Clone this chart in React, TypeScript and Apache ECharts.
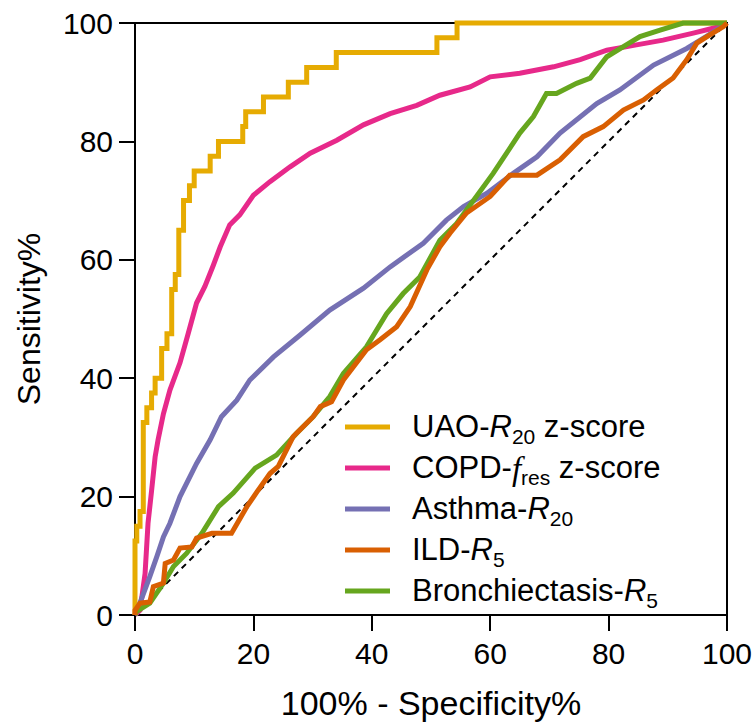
import React, { useEffect, useRef } from "react";
import * as echarts from "echarts";

const X_TICKS = [0, 20, 40, 60, 80, 100];
const Y_TICKS = [0, 20, 40, 60, 80, 100];

const SERIES_NAMES = ["UAO", "COPD", "Asthma", "ILD", "Bronchiectasis"];
const SERIES_COLORS = ["#E6AB02", "#E7298A", "#7570B3", "#D95F02", "#66A61E"];

// UAO-R20 z-score (step ROC)
const UAO_POINTS: [number, number][] = [
  [0, 0], [0, 12.5], [0.3, 12.5], [0.3, 15], [0.85, 15], [0.85, 17.5], [1.4, 17.5], [1.4, 32.5],
  [2.0, 32.5], [2.0, 35], [2.8, 35], [2.8, 37.5], [3.4, 37.5], [3.4, 40], [4.5, 40], [4.5, 45],
  [5.4, 45], [5.4, 47.5], [6.2, 47.5], [6.2, 55], [6.8, 55], [6.8, 57.5], [7.4, 57.5], [7.4, 65],
  [8.2, 65], [8.2, 70], [9.2, 70], [9.2, 72.5], [10.0, 72.5], [10.0, 75], [12.7, 75], [12.7, 77.5],
  [14.1, 77.5], [14.1, 80], [18.2, 80], [18.2, 82.5], [18.7, 82.5], [18.7, 85], [21.7, 85], [21.7, 87.5],
  [25.9, 87.5], [25.9, 90], [29, 90], [29, 92.5], [34, 92.5], [34, 95], [51, 95], [51, 97.5],
  [54.4, 97.5], [54.4, 100], [100, 100],
];

// COPD-fres z-score
const COPD_POINTS: [number, number][] = [
  [0, 0], [0.85, 0.8], [1.7, 7], [2.2, 15.5], [2.8, 21], [3.4, 26.7], [3.9, 29.6], [4.8, 34],
  [5.9, 38], [7.6, 42.6], [9.0, 47.6], [10.4, 52.7], [11.8, 55.5], [13.2, 59], [14.4, 62.2],
  [16, 65.9], [17.7, 67.6], [20, 70.9], [22.8, 73.2], [26.2, 75.7], [29.6, 78], [34.1, 80.2],
  [38.6, 82.8], [43.1, 84.7], [47.6, 86.1], [51.5, 87.8], [56.6, 89.2], [60, 90.9], [65, 91.5],
  [70.7, 92.6], [75.2, 93.8], [79.7, 95.4], [84.7, 96.3], [89.2, 97.1], [94.3, 98.3], [98.8, 99.4],
  [100, 100],
];

// Asthma-R20
const ASTHMA_POINTS: [number, number][] = [
  [0, 0], [0.6, 1.4], [2.5, 6.5], [3.7, 9.9], [4.8, 13.2], [5.9, 15.5], [7.6, 20], [10.4, 25.6],
  [12.7, 29.6], [14.6, 33.5], [17.2, 36.3], [19.4, 39.7], [23.4, 43.6], [27.9, 47.3], [32.9, 51.5],
  [38.6, 55.2], [43.1, 58.8], [48.7, 62.8], [52.6, 66.7], [55.5, 69], [59.4, 71.2], [63.9, 74.6],
  [67.9, 77.4], [71.8, 81.4], [78, 86.4], [81.9, 88.7], [87.6, 92.9], [93.2, 95.7], [96.6, 97.8],
  [100, 100],
];

// ILD-R5
const ILD_POINTS: [number, number][] = [
  [0, 0], [0, 0.8], [0.85, 2], [2.5, 2.2], [3.1, 4.8], [4.8, 5.4], [5.1, 8.7], [6.5, 9.3],
  [7.6, 11.3], [9.6, 11.5], [10.4, 13], [13, 13.8], [16.3, 13.8], [18.9, 18.3], [20.6, 20.8],
  [22.8, 23.9], [24.2, 25.1], [26.7, 30.1], [30.1, 33.5], [31.3, 35.2], [33.2, 36], [35.2, 39.7],
  [39.1, 44.8], [41.4, 46.5], [44.2, 48.7], [46.5, 52.1], [49.3, 58.3], [51.5, 62.2], [53.2, 64.5],
  [56, 67.9], [60, 70.7], [63.3, 74.3], [67.9, 74.3], [71.8, 76.9], [75.7, 80.8], [79.1, 82.5],
  [82.5, 85.3], [85.9, 87], [88.1, 88.7], [90.9, 90.7], [93.2, 93.8], [94.9, 96.6], [97.1, 98],
  [99.4, 99.4], [100, 100],
];

// Bronchiectasis-R5
const BRONCH_POINTS: [number, number][] = [
  [0, 0], [0.3, 0.6], [2.5, 2], [4.8, 5.4], [6.5, 8.2], [8.7, 10.4], [11.3, 13.8], [14.1, 18.3],
  [16.6, 20.6], [20.3, 24.8], [23.9, 27], [27.3, 30.7], [30.1, 33.5], [32.9, 36.9], [35.2, 40.8],
  [39.1, 45.3], [42.5, 50.9], [45.3, 54.3], [48.1, 57.1], [51.5, 63.3], [54.3, 66.1], [56, 68.4],
  [60.5, 74.6], [65, 81.4], [67.3, 84.2], [69.5, 88.1], [71.2, 88.1], [74.6, 89.8], [76.9, 90.7],
  [79.7, 94.3], [82.5, 96], [85.3, 97.7], [88.7, 98.8], [92.6, 100], [100, 100],
];

const REFERENCE_LINE: [number, number][] = [[0, 0], [100, 100]];

const SERIES_DATA = [UAO_POINTS, COPD_POINTS, ASTHMA_POINTS, ILD_POINTS, BRONCH_POINTS];

const LEGEND_LABELS: Record<string, string> = {
  UAO: "{n|UAO-}{i|R}{s|20}{n| z-score}",
  COPD: "{n|COPD-}{f|f}{s|res}{n| z-score}",
  Asthma: "{n|Asthma-}{i|R}{s|20}",
  ILD: "{n|ILD-}{i|R}{s|5}",
  Bronchiectasis: "{n|Bronchiectasis-}{i|R}{s|5}",
};

const FONT = "'Liberation Sans', Arial, Helvetica, sans-serif";

export default function App() {
  const ref = useRef<HTMLDivElement>(null);

  useEffect(() => {
    if (!ref.current) return;
    const chart = echarts.init(ref.current, null, { renderer: "svg" });

    const drawOrder = [0, 1, 2, 4, 3];
    const lineSeries = drawOrder.map((i) => ({
      name: SERIES_NAMES[i],
      type: "line",
      data: SERIES_DATA[i],
      showSymbol: false,
      symbol: "none",
      clip: false,
      lineStyle: { color: SERIES_COLORS[i], width: 5, join: "miter" },
      itemStyle: { color: SERIES_COLORS[i] },
      z: 3 + drawOrder.indexOf(i),
    }));

    const option: any = {
      animation: false,
      backgroundColor: "#fff",
      grid: {
        left: 135,
        right: 29,
        top: 23,
        bottom: 107,
        show: true,
        borderColor: "#000",
        borderWidth: 2,
        backgroundColor: "transparent",
        containLabel: false,
        outerBoundsMode: "none",
      },
      xAxis: {
        type: "value",
        min: 0,
        max: 100,
        interval: 20,
        name: "100% - Specificity%",
        nameLocation: "middle",
        nameGap: 71,
        nameTextStyle: { fontFamily: FONT, fontSize: 34, color: "#000" },
        axisLine: { show: true, onZero: false, lineStyle: { color: "#000", width: 2 } },
        axisTick: { show: true, length: 16, lineStyle: { color: "#000", width: 2 } },
        axisLabel: {
          fontFamily: FONT,
          fontSize: 30,
          color: "#000",
          margin: 23,
          formatter: (v: number) => (X_TICKS.includes(v) ? String(v) : ""),
        },
        splitLine: { show: false },
      },
      yAxis: {
        type: "value",
        min: 0,
        max: 100,
        interval: 20,
        name: "Sensitivity%",
        nameLocation: "middle",
        nameGap: 90,
        nameTextStyle: { fontFamily: FONT, fontSize: 32, color: "#000" },
        axisLine: { show: true, onZero: false, lineStyle: { color: "#000", width: 2 } },
        axisTick: { show: true, length: 16, lineStyle: { color: "#000", width: 2 } },
        axisLabel: {
          fontFamily: FONT,
          fontSize: 30,
          color: "#000",
          margin: 22,
          formatter: (v: number) => (Y_TICKS.includes(v) ? String(v) : ""),
        },
        splitLine: { show: false },
      },
      legend: {
        data: SERIES_NAMES,
        orient: "vertical",
        left: 340,
        top: 406,
        itemWidth: 45,
        itemHeight: 5,
        itemGap: 5,
        icon: "rect",
        selectedMode: false,
        formatter: (name: string) => LEGEND_LABELS[name] || name,
        textStyle: {
          color: "#000",
          fontFamily: FONT,
          fontSize: 31,
          padding: [0, 0, 0, 17],
          rich: {
            n: { fontFamily: FONT, fontSize: 31, color: "#000", lineHeight: 32, verticalAlign: "top" },
            i: { fontFamily: FONT, fontSize: 31, fontStyle: "italic", color: "#000", lineHeight: 32, verticalAlign: "top" },
            f: { fontFamily: "'Liberation Serif', 'DejaVu Serif', serif", fontSize: 33, fontStyle: "italic", color: "#000", lineHeight: 32, verticalAlign: "top" },
            s: { fontFamily: FONT, fontSize: 21, color: "#000", lineHeight: 21, padding: [15, 0, 0, 0], verticalAlign: "top" },
          },
        },
      },
      series: [
        {
          name: "reference",
          type: "line",
          data: REFERENCE_LINE,
          showSymbol: false,
          symbol: "none",
          silent: true,
          lineStyle: { color: "#000", width: 2, type: [6, 5] },
          z: 2,
        },
        ...lineSeries,
      ],
    };

    chart.setOption(option);
    return () => chart.dispose();
  }, []);

  return (
    <div
      ref={ref}
      style={{ position: "absolute", left: 0, top: 0, width: 756, height: 722, background: "#fff" }}
    />
  );
}
